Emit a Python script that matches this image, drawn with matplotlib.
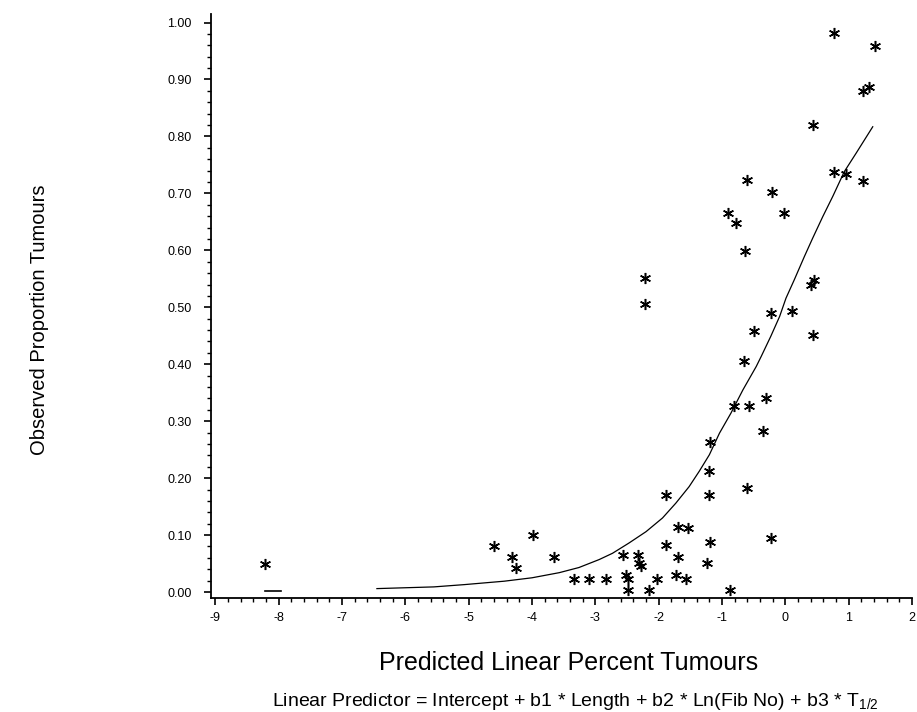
import matplotlib
matplotlib.use("Agg")
import matplotlib.pyplot as plt
from matplotlib.ticker import MultipleLocator, FormatStrFormatter

plt.rcParams['font.family'] = ['Liberation Sans', 'DejaVu Sans']
plt.rcParams['mathtext.fontset'] = 'custom'
plt.rcParams['mathtext.rm'] = 'Liberation Sans'
plt.rcParams['mathtext.it'] = 'Liberation Sans:italic'
plt.rcParams['axes.unicode_minus'] = False

# ============ Data ============
pred_x = [-8.21, -4.60, -4.31, -4.26, -3.99, -3.65, -3.33, -3.10, -2.83,
          -2.57, -2.33, -2.31, -2.28, -2.52, -2.49, -2.49, -2.16, -2.02,
          -1.73, -1.57, -0.87, -1.89, -1.70, -1.70, -1.54, -1.89, -1.20,
          -1.20, -1.19, -1.19, -1.23, -0.60, -0.23, -0.81, -0.57, -0.31,
          -0.36, -0.65, -0.49, -0.23, 0.11, 0.43, 0.41, 0.46, -2.21,
          -2.21, -0.63, -0.90, -0.78, -0.02, -0.21, -0.60, 0.77, 1.41,
          1.22, 1.32, 0.43, 0.77, 0.96, 1.22]
obs_prop = [0.050, 0.080, 0.062, 0.042, 0.101, 0.061, 0.023, 0.023, 0.023,
            0.065, 0.065, 0.051, 0.045, 0.030, 0.023, 0.004, 0.004, 0.023,
            0.030, 0.023, 0.004, 0.082, 0.062, 0.115, 0.112, 0.171, 0.171,
            0.213, 0.263, 0.088, 0.051, 0.183, 0.094, 0.326, 0.326, 0.341,
            0.282, 0.405, 0.458, 0.490, 0.494, 0.452, 0.540, 0.548, 0.552,
            0.506, 0.598, 0.666, 0.648, 0.666, 0.702, 0.724, 0.981, 0.959,
            0.879, 0.887, 0.820, 0.738, 0.734, 0.721]

# fitted curve
fit_x = [-6.45, -5.55, -5.07, -4.44, -4.00, -3.57, -3.26, -2.94, -2.73,
         -2.47, -2.20, -1.94, -1.73, -1.52, -1.36, -1.20, -1.04, -0.86,
         -0.67, -0.46, -0.38, -0.23, -0.09, 0.01, 0.14, 0.30, 0.43, 0.59,
         0.75, 0.93, 1.12, 1.38]
fit_y = [0.006, 0.009, 0.013, 0.019, 0.025, 0.034, 0.043, 0.057, 0.068,
         0.086, 0.106, 0.130, 0.156, 0.185, 0.212, 0.241, 0.279, 0.314,
         0.355, 0.396, 0.414, 0.449, 0.484, 0.516, 0.548, 0.589, 0.621,
         0.659, 0.695, 0.738, 0.771, 0.817]
stub_x = [-8.21, -7.97]
stub_y = [0.001, 0.001]

# ============ Figure ============
fig = plt.figure(figsize=(9.17, 7.12), dpi=100)
ax = fig.add_axes([211 / 917, 1 - 598 / 712, (912 - 211) / 917, (598 - 14) / 712])

ax.plot(fit_x, fit_y, color='black', lw=0.9)
ax.plot(stub_x, stub_y, color='black', lw=1.2)
ax.plot(pred_x, obs_prop, linestyle='none', marker=(6, 2, 0), ms=8,
        mew=1.1, color='black')

ax.set_xlim(-9.07, 2.0)
ax.set_ylim(-0.0105, 1.015)

ax.xaxis.set_major_locator(MultipleLocator(1))
ax.xaxis.set_minor_locator(MultipleLocator(0.2))
ax.yaxis.set_major_locator(MultipleLocator(0.1))
ax.yaxis.set_minor_locator(MultipleLocator(0.02))
ax.yaxis.set_major_formatter(FormatStrFormatter('%.2f'))

for side in ['top', 'right']:
    ax.spines[side].set_visible(False)
for side in ['left', 'bottom']:
    ax.spines[side].set_linewidth(1.3)

ax.tick_params(which='major', length=5, width=1.2, labelsize=9)
ax.tick_params(which='minor', length=3, width=1.0)
ax.tick_params(axis='y', which='major', pad=9)
ax.tick_params(axis='x', which='major', pad=5)

fig.text(40 / 917, 1 - 320 / 712, 'Observed Proportion Tumours', rotation=90,
         ha='center', va='center', fontsize=14.5)
fig.text(569 / 917, 1 - 663 / 712, 'Predicted Linear Percent Tumours',
         ha='center', va='center', fontsize=18)
fig.text(575 / 917, 1 - 701 / 712,
         'Linear Predictor = Intercept + b1 * Length + b2 * Ln(Fib No) + b3 * T$_{\\mathrm{1/2}}$',
         ha='center', va='center', fontsize=14)

fig.savefig('out.png', dpi=100)
